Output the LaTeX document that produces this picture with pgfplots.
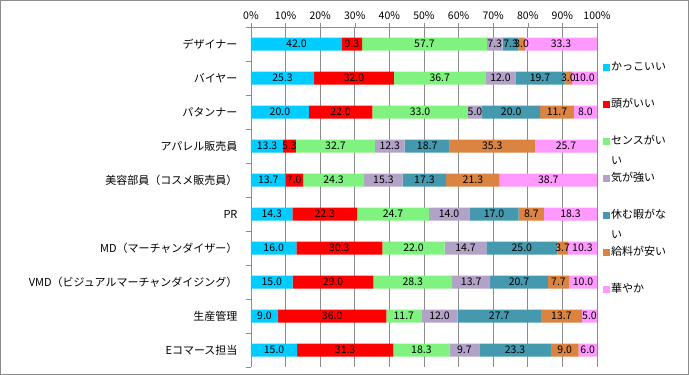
\documentclass[border=0pt]{standalone}
\usepackage{fontspec}
\setmainfont{Noto Sans CJK JP}
\usepackage{pgfplots}
\usepackage{pgfplotstable}
\pgfplotsset{compat=1.18}
\pgfplotsset{/pgf/number format/assume math mode=true}
\definecolor{c1}{HTML}{00CCFF}
\definecolor{c2}{HTML}{FF0000}
\definecolor{c3}{HTML}{80F280}
\definecolor{c4}{HTML}{B3A2C7}
\definecolor{c5}{HTML}{4499AF}
\definecolor{c6}{HTML}{DB8340}
\definecolor{c7}{HTML}{FF99FF}
\definecolor{gridc}{RGB}{140,140,140}

\pgfplotstableread{
idx a b c d e f g
0 42.0 9.3 57.7 7.3 7.3 3.0 33.3
1 25.3 32.0 36.7 12.0 19.7 3.0 10.0
2 20.0 22.0 33.0 5.0 20.0 11.7 8.0
3 13.3 5.3 32.7 12.3 18.7 35.3 25.7
4 13.7 7.0 24.3 15.3 17.3 21.3 38.7
5 14.3 22.3 24.7 14.0 17.0 8.7 18.3
6 16.0 30.3 22.0 14.7 25.0 3.7 10.3
7 15.0 29.0 28.3 13.7 20.7 7.7 10.0
8 9.0 36.0 11.7 12.0 27.7 13.7 5.0
9 15.0 31.3 18.3 9.7 23.3 9.0 6.0
}\data
\pgfplotstablecreatecol[create col/expr={\thisrow{a}+\thisrow{b}+\thisrow{c}+\thisrow{d}+\thisrow{e}+\thisrow{f}+\thisrow{g}}]{s}\data

\pgfplotsset{
  myleg/.style={legend image code/.code={\fill[##1] (0pt,-3.5pt) rectangle (7pt,3.5pt);}},
  lab/.style={only marks, mark=none, nodes near coords, point meta=explicit,
    every node near coord/.append style={anchor=center, inner sep=0pt, font=\fontsize{10.5}{11}\selectfont, text=black,
      /pgf/number format/.cd, fixed, fixed zerofill, precision=1}},
}

\begin{document}
\begin{tikzpicture}
\useasboundingbox (0pt,0pt) rectangle (689pt,-375pt);
\draw[gridc] (0.5pt,-0.5pt) rectangle (688.5pt,-374.5pt);
\begin{axis}[
  at={(251pt,-27pt)}, anchor=north west,
  width=346pt, height=340pt, scale only axis,
  xmin=0, xmax=100, ymin=-0.5, ymax=9.5, y dir=reverse,
  xbar stacked, bar width=13pt,
  axis x line*=top, axis y line*=left,
  axis line style={gridc},
  xtick={0,10,...,100},
  xticklabel={\pgfmathprintnumber{\tick}\%},
  xticklabel style={font=\fontsize{10.5}{11}\selectfont},
  x tick style={gridc}, tick align=outside, major tick length=4pt,
  xmajorgrids, grid style={gridc, line width=0.6pt},
  ytick={0,...,9},
  yticklabels={デザイナー, バイヤー, パタンナー, アパレル販売員, 美容部員（コスメ販売員）, PR, MD（マーチャンダイザー）, VMD（ビジュアルマーチャンダイジング）, 生産管理, Eコマース担当},
  yticklabel style={font=\fontsize{11}{12}\selectfont, xshift=-6pt},
  major y tick style={draw=none},
  extra y ticks={-0.5,0.5,...,9.5},
  extra y tick labels={},
  extra y tick style={major y tick style={draw=gridc}, major tick length=5pt},
  legend style={draw=none, fill=none, at={(1.0173,0.9)}, anchor=north west, inner sep=0pt,
    row sep=24pt, nodes={inner sep=1pt, text height=8.5pt, text depth=2.5pt, anchor=west,
    font=\fontsize{11}{12}\selectfont}},
  legend cell align=left,
]
\addplot[fill=c1, draw=none, myleg] table[y=idx, x expr=\thisrow{a}/\thisrow{s}*100]{\data};
\addlegendentry{かっこいい}
\addplot[fill=c2, draw=none, myleg] table[y=idx, x expr=\thisrow{b}/\thisrow{s}*100]{\data};
\addlegendentry{頭がいい}
\addplot[fill=c3, draw=none, myleg] table[y=idx, x expr=\thisrow{c}/\thisrow{s}*100]{\data};
\addlegendentry{\begin{tabular}[t]{@{}l@{}}センスがい\\[8pt]い\end{tabular}}
\addplot[fill=c4, draw=none, myleg] table[y=idx, x expr=\thisrow{d}/\thisrow{s}*100]{\data};
\addlegendentry{気が強い}
\addplot[fill=c5, draw=none, myleg] table[y=idx, x expr=\thisrow{e}/\thisrow{s}*100]{\data};
\addlegendentry{\begin{tabular}[t]{@{}l@{}}休む暇がな\\[8pt]い\end{tabular}}
\addplot[fill=c6, draw=none, myleg] table[y=idx, x expr=\thisrow{f}/\thisrow{s}*100]{\data};
\addlegendentry{給料が安い}
\addplot[fill=c7, draw=none, myleg] table[y=idx, x expr=\thisrow{g}/\thisrow{s}*100]{\data};
\addlegendentry{華やか}
\end{axis}
\begin{axis}[
  at={(251pt,-27pt)}, anchor=north west,
  width=346pt, height=340pt, scale only axis,
  xmin=0, xmax=100, ymin=-0.5, ymax=9.5, y dir=reverse,
  hide axis, clip=false,
]
\addplot[lab] table[y=idx, x expr={(\thisrow{a}/2)/\thisrow{s}*100}, meta=a]{\data};
\addplot[lab] table[y=idx, x expr={(\thisrow{a}+\thisrow{b}/2)/\thisrow{s}*100}, meta=b]{\data};
\addplot[lab] table[y=idx, x expr={(\thisrow{a}+\thisrow{b}+\thisrow{c}/2)/\thisrow{s}*100}, meta=c]{\data};
\addplot[lab] table[y=idx, x expr={(\thisrow{a}+\thisrow{b}+\thisrow{c}+\thisrow{d}/2)/\thisrow{s}*100}, meta=d]{\data};
\addplot[lab] table[y=idx, x expr={(\thisrow{a}+\thisrow{b}+\thisrow{c}+\thisrow{d}+\thisrow{e}/2)/\thisrow{s}*100}, meta=e]{\data};
\addplot[lab] table[y=idx, x expr={(\thisrow{a}+\thisrow{b}+\thisrow{c}+\thisrow{d}+\thisrow{e}+\thisrow{f}/2)/\thisrow{s}*100}, meta=f]{\data};
\addplot[lab] table[y=idx, x expr={(\thisrow{s}-\thisrow{g}/2)/\thisrow{s}*100}, meta=g]{\data};
\end{axis}
\end{tikzpicture}
\end{document}
